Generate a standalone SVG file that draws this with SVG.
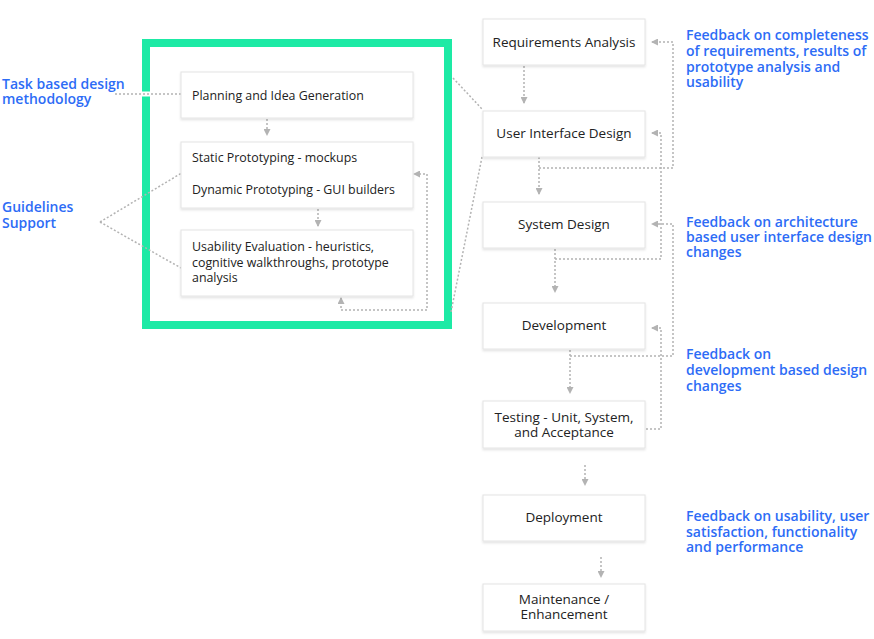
<svg xmlns="http://www.w3.org/2000/svg" width="874" height="639" viewBox="0 0 874 639">
<defs>
<filter id="sh" x="-10%" y="-20%" width="120%" height="150%">
<feDropShadow dx="0" dy="1.5" stdDeviation="1.2" flood-color="#000" flood-opacity="0.12"/>
</filter>
<marker id="ah" markerUnits="userSpaceOnUse" markerWidth="7" markerHeight="7" refX="6" refY="3.5" orient="auto-start-reverse">
<path d="M0,0 L7,3.5 L0,7 z" fill="#b3b3b3"/>
</marker>
</defs>
<style>
.box{fill:#fff;stroke:#e4e4e4;stroke-width:1;filter:url(#sh)}
.t{font-family:"Open Sans","Noto Sans",sans-serif;font-size:13.5px;fill:#222;text-anchor:middle}
.tl{font-family:"Open Sans","Noto Sans",sans-serif;font-size:12.4px;fill:#222}
.b{font-family:"Open Sans","Noto Sans",sans-serif;font-size:14px;font-weight:600;fill:#2d6cf6}
.c{fill:none;stroke:#b3b3b3;stroke-width:1.5;stroke-dasharray:2 2}
.a{marker-end:url(#ah)}
</style>
<rect width="874" height="639" fill="#fff"/>
<g id="frame">
<rect x="146" y="43" width="302" height="282" fill="none" stroke="#1deaa5" stroke-width="8"/>
</g>
<g id="connectors">
<path d="M140,94 H153" stroke="#fff" stroke-width="5"/>
<path class="c" d="M115,94 H181"/>
<path class="c" d="M100,222 L180,174 H398"/>
<path class="c" d="M100,222 L181,268"/>
<path class="c" d="M453,78 L482,109"/>
<path class="c" d="M482,157 L451,312"/>
<path class="c a" d="M267,119 V135"/>
<path class="c a" d="M318,209 V226"/>
<path class="c a" d="M341,298 V310 H427 V174 H414" marker-start="url(#ah)"/>
<path class="c a" d="M524,66 V103"/>
<path class="c a" d="M539,157 V194"/>
<path class="c a" d="M555,249 V292"/>
<path class="c a" d="M570,350 V393"/>
<path class="c a" d="M585,465 V485"/>
<path class="c a" d="M601,557 V577"/>
<path class="c a" d="M539,168 H673 V42 H652"/>
<path class="c a" d="M555,259 H661 V133 H652"/>
<path class="c a" d="M570,356 H673 V224 H652"/>
<path class="c a" d="M646,429 H661 V328 H652"/>
</g>
<g id="planning"><rect class="box" x="181" y="72" width="232" height="46"/><text class="tl" x="192" y="99.5">Planning and Idea Generation</text></g>
<g id="prototyping"><rect class="box" x="181" y="142" width="232" height="66"/><text class="tl" x="192" y="162">Static Prototyping - mockups</text><text class="tl" x="192" y="193.5">Dynamic Prototyping - GUI builders</text></g>
<g id="usability"><rect class="box" x="181" y="230" width="232" height="66"/><text class="tl" x="192" y="251">Usability Evaluation - heuristics,</text><text class="tl" x="192" y="267">cognitive walkthroughs, prototype</text><text class="tl" x="192" y="282">analysis</text></g>
<g id="requirements"><rect class="box" x="483" y="19" width="162" height="46"/><text class="t" x="564" y="47">Requirements Analysis</text></g>
<g id="uidesign"><rect class="box" x="483" y="111" width="162" height="46"/><text class="t" x="564" y="138">User Interface Design</text></g>
<g id="systemdesign"><rect class="box" x="483" y="202" width="162" height="46"/><text class="t" x="564" y="229">System Design</text></g>
<g id="development"><rect class="box" x="483" y="303" width="162" height="46"/><text class="t" x="564" y="330">Development</text></g>
<g id="testing"><rect class="box" x="483" y="401" width="162" height="47"/><text class="t" x="564" y="422">Testing - Unit, System,</text><text class="t" x="564" y="437">and Acceptance</text></g>
<g id="deployment"><rect class="box" x="483" y="495" width="162" height="46"/><text class="t" x="564" y="522">Deployment</text></g>
<g id="maintenance"><rect class="box" x="483" y="584" width="162" height="47"/><text class="t" x="564" y="604">Maintenance /</text><text class="t" x="564" y="619">Enhancement</text></g>
<g id="label-task"><text class="b" x="2" y="89">Task based design</text><text class="b" x="2" y="104">methodology</text></g>
<g id="label-guidelines"><text class="b" x="2" y="212">Guidelines</text><text class="b" x="2" y="228">Support</text></g>
<g id="label-fb1"><text class="b" x="686" y="40">Feedback on completeness</text><text class="b" x="686" y="56">of requirements, results of</text><text class="b" x="686" y="71.5">prototype analysis and</text><text class="b" x="686" y="86.5">usability</text></g>
<g id="label-fb2"><text class="b" x="686" y="226.5">Feedback on architecture</text><text class="b" x="686" y="241.5">based user interface design</text><text class="b" x="686" y="256.5">changes</text></g>
<g id="label-fb3"><text class="b" x="686" y="359">Feedback on</text><text class="b" x="686" y="375">development based design</text><text class="b" x="686" y="390.5">changes</text></g>
<g id="label-fb4"><text class="b" x="686" y="521">Feedback on usability, user</text><text class="b" x="686" y="537">satisfaction, functionality</text><text class="b" x="686" y="552">and performance</text></g>
</svg>
